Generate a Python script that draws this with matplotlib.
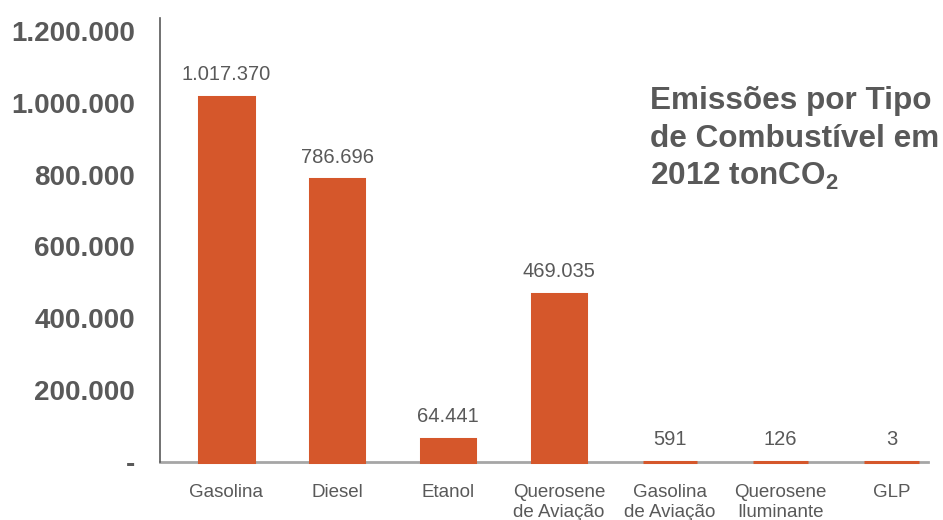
import matplotlib
matplotlib.use("Agg")
import matplotlib.pyplot as plt
from matplotlib.ticker import FuncFormatter

plt.rcParams['font.family'] = ['Liberation Sans', 'DejaVu Sans']
plt.rcParams['mathtext.fontset'] = 'custom'
plt.rcParams['mathtext.rm'] = 'Liberation Sans:bold'
plt.rcParams['mathtext.default'] = 'rm'

categories = ["Gasolina", "Diesel", "Etanol", "Querosene\nde Aviação",
              "Gasolina\nde Aviação", "Querosene\nIluminante", "GLP"]
values = [1017370, 786696, 64441, 469035, 591, 126, 3]
yticks = [0, 200000, 400000, 600000, 800000, 1000000, 1200000]

bar_color = "#D5572B"
text_gray = "#595959"

def fmt(v):
    return f"{int(v):,}".replace(",", ".")

fig = plt.figure(figsize=(9.43, 5.2), dpi=100)
ax = fig.add_axes([160/943, 58/520, (928-160)/943, (462-18)/520])

x = list(range(len(categories)))
bars = ax.bar(x, values, width=0.49, color=bar_color, edgecolor=bar_color,
              linewidth=2.2, zorder=3)
for b in bars:
    b.set_clip_on(False)

for xi, v in zip(x, values):
    ax.annotate(fmt(v), (xi, v), xytext=(0, 9), textcoords="offset points",
                ha="center", va="bottom", fontsize=14.5, color=text_gray)

ax.set_xlim(-0.6, 6.33)
ax.set_ylim(0, 1236000)
ax.set_yticks(yticks)
ax.yaxis.set_major_formatter(FuncFormatter(lambda v, p: "-" if v == 0 else fmt(v)))
ax.tick_params(axis="y", length=0, pad=18, labelsize=20, labelcolor=text_gray)
for lab in ax.get_yticklabels():
    lab.set_fontweight("bold")
ax.set_xticks(x)
ax.set_xticklabels(categories, fontsize=13.5, color=text_gray, linespacing=1.2)
ax.tick_params(axis="x", length=0, pad=16)

for s in ["top", "right"]:
    ax.spines[s].set_visible(False)
ax.spines["left"].set_color("#595959")
ax.spines["left"].set_linewidth(1.2)
ax.spines["bottom"].set_color("#A6A6A6")
ax.spines["bottom"].set_linewidth(2)
ax.spines["bottom"].set_zorder(2)

title_lines = ["Emissões por Tipo", "de Combustível em", "2012 tonCO$_2$"]
for i, t in enumerate(title_lines):
    fig.text(650/943, 1 - (109 + 38*i)/520, t, fontsize=22.7, fontweight="bold",
             color=text_gray, ha="left", va="baseline")

fig.savefig("out.png", dpi=100)
